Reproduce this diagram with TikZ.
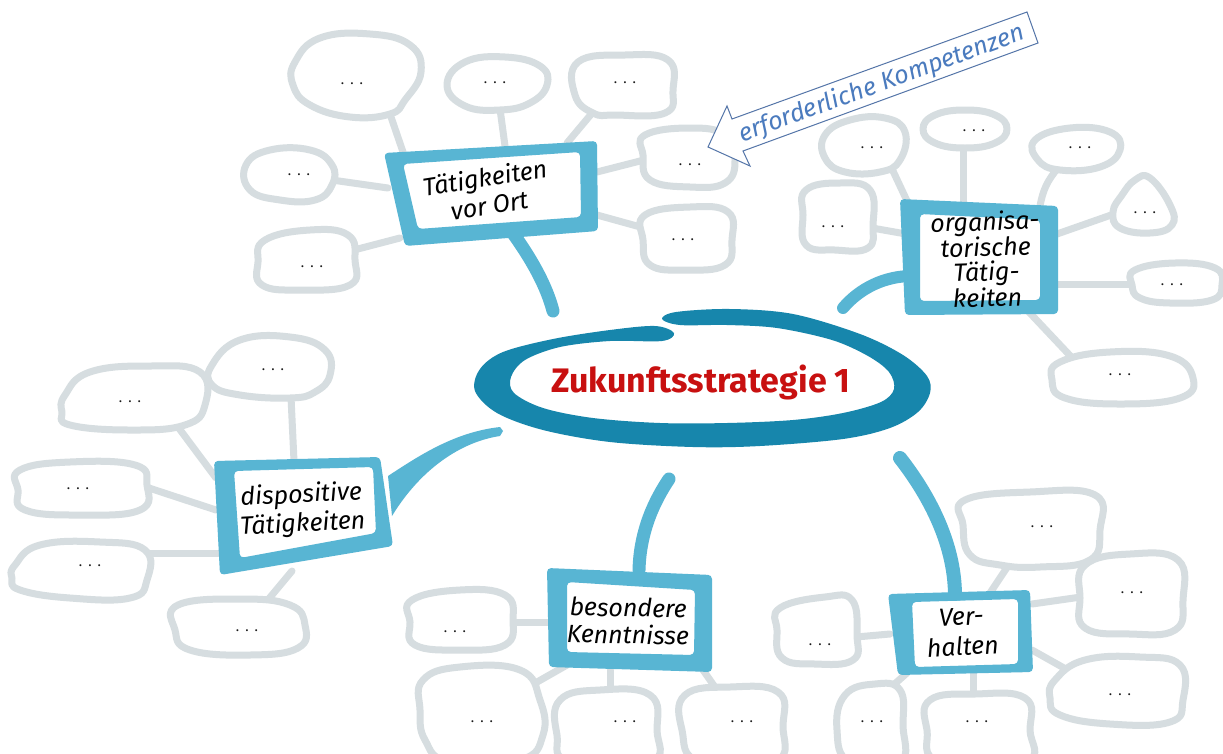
\documentclass[tikz,border=0pt]{standalone}
\usepackage{fontspec}
\setmainfont{Fira Sans}
\definecolor{twig}{HTML}{D6DDE0}
\definecolor{frame}{HTML}{58B5D3}
\definecolor{ring}{HTML}{1786AC}
\definecolor{titlered}{HTML}{C81010}
\definecolor{hintblue}{HTML}{4B7BBE}
\definecolor{hintline}{HTML}{5475A8}
\newcommand\ddd{.\kern6pt.\kern6pt.}
% hand drawn box: outer corners #1-#4, inner corners #5-#8
\newcommand\handframe[8]{%
  \fill[white] #5 -- #6 -- #7 -- #8 -- cycle;
  \fill[frame, even odd rule, rounded corners=4pt]
    #1 -- #2 -- #3 -- #4 -- cycle #5 -- #6 -- #7 -- #8 -- cycle;}
\begin{document}
\begin{tikzpicture}[x=1pt, y=-1pt,
  twigline/.style={draw=twig, line width=7pt, line cap=round},
  bubble/.style={draw=twig, line width=7pt, fill=white, line join=round},
  branch/.style={draw=frame, line width=13pt, line cap=round},
  lbl/.style={font=\fontsize{25}{28}\selectfont\itshape, align=center, inner sep=0pt},
  dotsnode/.style={font=\fontsize{14}{14}\selectfont, text=black!90, inner sep=0pt},
]
\useasboundingbox (0,0) rectangle (1223,753);
\fill[white] (0,0) rectangle (1223,753);
\clip (0,0) rectangle (1223,753);

% ---- attachment points of the grey twigs (bubble side / box side)
\coordinate (c1) at (390,114);   \coordinate (k1) at (403,152);
\coordinate (c2) at (500,109);   \coordinate (k2) at (505,146);
\coordinate (c3) at (593,112);   \coordinate (k3) at (567,143);
\coordinate (c4) at (332,180);   \coordinate (k4) at (388,188);
\coordinate (c5) at (644,160);   \coordinate (k5) at (597,172);
\coordinate (c6) at (354,250);   \coordinate (k6) at (400,238);
\coordinate (c7) at (644,228);   \coordinate (k7) at (597,215);
\coordinate (c8) at (963,147);   \coordinate (k8) at (963,203);
\coordinate (c9) at (893,171);   \coordinate (k9) at (908,203);
\coordinate (c10) at (1058,168); \coordinate (k10) at (1040,206);
\coordinate (c11) at (872,228);  \coordinate (k11) at (906,234);
\coordinate (c12) at (1114,214); \coordinate (k12) at (1057,234);
\coordinate (c13) at (1133,284); \coordinate (k13) at (1057,284);
\coordinate (c14) at (1077,363); \coordinate (k14) at (1028,311);
\coordinate (c15) at (291,397);  \coordinate (k15) at (294,461);
\coordinate (c16) at (178,427);  \coordinate (k16) at (216,478);
\coordinate (c17) at (146,487);  \coordinate (k17) at (216,510);
\coordinate (c18) at (146,553);  \coordinate (k18) at (219,553);
\coordinate (c19) at (267,601);  \coordinate (k19) at (292,571);
\coordinate (c20) at (512,622);  \coordinate (k20) at (549,622);
\coordinate (c21) at (523,690);  \coordinate (k21) at (567,665);
\coordinate (c22) at (610,693);  \coordinate (k22) at (610,670);
\coordinate (c23) at (717,690);  \coordinate (k23) at (703,670);
\coordinate (c24) at (856,637);  \coordinate (k24) at (890,634);
\coordinate (c25) at (890,688);  \coordinate (k25) at (907,673);
\coordinate (c26) at (973,697);  \coordinate (k26) at (973,672);
\coordinate (c27) at (1010,563); \coordinate (k27) at (990,593);
\coordinate (c28) at (1081,597); \coordinate (k28) at (1032,604);
\coordinate (c29) at (1064,668); \coordinate (k29) at (1032,650);

% ---- grey twigs
\foreach \i in {1,...,9,11,12,13,14,15,16,17,18,19,20,21,22,23,24,25,26,27,28,29}
  \draw[twigline] (c\i) -- (k\i);
\draw[twigline] (c10) to[bend right=15] (k10);

% ---- grey bubbles
\draw[bubble] plot[smooth cycle, tension=0.75] coordinates {(295,62) (320,38) (370,34) (410,45) (421,72) (405,100) (390,114) (350,117) (310,105) (293,85)};
\draw[bubble] plot[smooth cycle, tension=0.75] coordinates {(447,85) (465,62) (505,57) (540,66) (547,85) (530,103) (500,110) (465,106)};
\draw[bubble] plot[smooth cycle, tension=0.75] coordinates {(578,62) (625,55) (668,60) (673,90) (665,113) (615,115) (593,113) (575,95)};
\draw[bubble] plot[smooth cycle, tension=0.75] coordinates {(246,165) (270,150) (310,150) (332,165) (332,185) (315,200) (280,200) (250,190)};
\draw[bubble] plot[smooth cycle, tension=0.75] coordinates {(645,135) (690,128) (725,135) (735,160) (725,183) (690,187) (650,180) (643,155)};
\draw[bubble] plot[smooth cycle, tension=0.75] coordinates {(265,240) (310,230) (348,235) (355,260) (350,285) (300,290) (262,285) (258,262)};
\draw[bubble] plot[smooth cycle, tension=0.75] coordinates {(645,215) (690,207) (728,212) (732,240) (725,265) (685,270) (650,265) (643,240)};
\draw[bubble] plot[smooth cycle, tension=0.75] coordinates {(923,129) (935,115) (965,110) (995,115) (1007,129) (995,143) (965,148) (935,143)};
\draw[bubble] plot[smooth cycle, tension=0.75] coordinates {(825,135) (850,120) (885,118) (905,132) (900,160) (880,172) (845,172) (825,158)};
\draw[bubble] plot[smooth cycle, tension=0.75] coordinates {(1035,140) (1070,128) (1110,132) (1120,150) (1100,167) (1060,170) (1038,160)};
\draw[bubble] plot[smooth cycle, tension=0.75] coordinates {(806,190) (840,183) (870,190) (873,225) (868,248) (835,250) (806,245) (803,215)};
\draw[bubble] plot[smooth cycle, tension=0.75] coordinates {(1135,180) (1150,178) (1170,205) (1172,225) (1150,233) (1120,228) (1113,212) (1122,195)};
\draw[bubble] plot[smooth cycle, tension=0.75] coordinates {(1135,270) (1175,263) (1215,268) (1222,285) (1212,300) (1170,303) (1140,298) (1132,285)};
\draw[bubble] plot[smooth cycle, tension=0.75] coordinates {(1060,362) (1110,352) (1170,356) (1193,378) (1180,398) (1120,404) (1065,398) (1052,380)};
\draw[bubble] plot[smooth cycle, tension=0.75] coordinates {(212,365) (240,340) (290,337) (325,350) (330,375) (315,392) (290,398) (240,395) (212,385)};
\draw[bubble] plot[smooth cycle, tension=0.75] coordinates {(65,395) (90,372) (150,366) (200,372) (205,405) (185,425) (130,430) (70,425) (62,412)};
\draw[bubble] plot[smooth cycle, tension=0.75] coordinates {(20,470) (70,462) (135,465) (147,485) (140,510) (80,515) (25,510) (18,490)};
\draw[bubble] plot[smooth cycle, tension=0.75] coordinates {(15,565) (40,545) (100,542) (145,550) (147,580) (130,598) (70,598) (20,590) (12,578)};
\draw[bubble] plot[smooth cycle, tension=0.75] coordinates {(178,605) (240,599) (290,605) (305,625) (298,648) (250,655) (190,650) (175,630)};
\draw[bubble] plot[smooth cycle, tension=0.75] coordinates {(412,600) (460,590) (505,595) (513,620) (505,645) (460,650) (415,645) (410,622)};
\draw[bubble] plot[smooth cycle, tension=0.75] coordinates {(423,680) (460,667) (520,670) (540,700) (543,735) (520,760) (450,762) (425,740) (420,710)};
\draw[bubble] plot[smooth cycle, tension=0.75] coordinates {(560,700) (600,690) (650,695) (657,730) (650,762) (570,762) (557,735)};
\draw[bubble] plot[smooth cycle, tension=0.75] coordinates {(685,695) (730,687) (778,692) (783,725) (775,762) (700,762) (682,730)};
\draw[bubble] plot[smooth cycle, tension=0.75] coordinates {(780,608) (825,597) (852,600) (857,635) (853,660) (815,664) (782,658) (777,630)};
\draw[bubble] plot[smooth cycle, tension=0.75] coordinates {(845,695) (875,684) (900,690) (903,725) (900,762) (850,762) (837,730)};
\draw[bubble] plot[smooth cycle, tension=0.75] coordinates {(930,700) (975,694) (1025,698) (1030,730) (1025,762) (940,762) (927,730)};
\draw[bubble] plot[smooth cycle, tension=0.75] coordinates {(965,500) (1030,492) (1095,495) (1100,530) (1090,560) (1040,567) (1000,565) (970,555) (963,525)};
\draw[bubble] plot[smooth cycle, tension=0.75] coordinates {(1085,565) (1130,554) (1178,560) (1183,600) (1175,630) (1130,634) (1085,628) (1080,598)};
\draw[bubble] plot[smooth cycle, tension=0.75] coordinates {(1055,680) (1085,660) (1140,657) (1180,665) (1183,700) (1170,722) (1110,724) (1060,715) (1050,698)};

% ---- placeholder dots
\foreach \n/\p in {1/{(352,84)}, 2/{(495,83)}, 3/{(625,83)}, 4/{(299,175)}, 5/{(690,165)},
  6/{(312,267)}, 7/{(683,240)}, 8/{(974,131)}, 9/{(872,148)}, 10/{(1080,148)},
  11/{(833,227)}, 12/{(1145,213)}, 13/{(1172,285)}, 14/{(1120,375)}, 15/{(273,370)},
  16/{(130,402)}, 17/{(78,489)}, 18/{(90,566)}, 19/{(247,631)}, 20/{(455,632)},
  21/{(482,722)}, 22/{(625,722)}, 23/{(742,722)}, 24/{(820,645)}, 25/{(872,722)},
  26/{(977,722)}, 27/{(1042,527)}, 28/{(1132,593)}, 29/{(1120,695)}}
  \node[dotsnode] (d\n) at \p {\ddd};

% ---- teal branches from the centre
\coordinate (b1a) at (512,232); \coordinate (b1b) at (553,311);
\coordinate (b2a) at (912,276); \coordinate (b2b) at (843,308);
\coordinate (b4a) at (669,479); \coordinate (b4b) at (639,570);
\coordinate (b5a) at (900,458); \coordinate (b5b) at (955,596);
\draw[branch] (b1a) .. controls (525,250) and (545,280) .. (b1b);
\draw[branch, line width=12pt] (b2a) .. controls (885,276) and (860,288) .. (b2b);
\draw[branch] (b4a) .. controls (655,500) and (640,530) .. (b4b);
\draw[branch, line width=14pt] (b5a) .. controls (925,490) and (955,540) .. (b5b);
% tapered stroke towards the left box
\fill[frame] (388,476) .. controls (420,455) and (455,432) .. (500,427)
  -- (503,431) -- (500,436) .. controls (460,442) and (420,470) .. (392,516) -- cycle;

% ---- central brush ring
\fill[ring] plot[smooth cycle, tension=0.55] coordinates {
  (662,319) (676,312) (730,309) (793,314) (860,334) (903,355) (927,376) (930,393)
  (918,412) (890,428) (843,439) (760,446) (693,447) (610,442) (543,430) (497,413)
  (475,391) (480,369) (503,352) (553,339) (610,330) (655,326) (674,333) (662,341)
  (610,341) (560,347) (525,360) (511,377) (514,393) (543,408) (593,418) (660,423)
  (727,423) (793,420) (843,413) (881,402) (894,389) (889,372) (868,356) (832,340)
  (777,328) (727,325) (680,325)};
\node[font=\fontsize{34}{34}\selectfont\bfseries, text=titlered, anchor=base, inner sep=0pt]
  (zs) at (701,392) {Zukunftsstrategie 1};

% ---- topic boxes
\handframe{(384,153)}{(597,141)}{(598,231)}{(405,246)}{(403,164)}{(580,152)}{(581,217)}{(418,229)}
\handframe{(900,199)}{(1058,206)}{(1058,314)}{(905,315)}{(920,214)}{(1040,220)}{(1040,300)}{(920,301)}
\handframe{(214,461)}{(380,457)}{(393,546)}{(220,575)}{(234,471)}{(373,467)}{(376,533)}{(240,558)}
\handframe{(547,568)}{(712,575)}{(712,672)}{(549,667)}{(567,582)}{(695,590)}{(694,655)}{(567,652)}
\handframe{(888,594)}{(1030,590)}{(1033,672)}{(898,675)}{(912,602)}{(1018,599)}{(1018,664)}{(915,667)}

\node[lbl, rotate=9] (tvo) at (487,191) {Tätigkeiten\\vor Ort};
\node[lbl, font=\fontsize{25}{24.5}\selectfont\itshape, rotate=2] (org) at (986,259)
  {organisa-\\torische\\Tätig-\\keiten};
\node[lbl, font=\fontsize{25}{29}\selectfont\itshape, rotate=3] (disp) at (302,510)
  {dispositive\\Tätigkeiten};
\node[lbl, font=\fontsize{25}{27}\selectfont\itshape, rotate=-1] (bes) at (628,621)
  {besondere\\Kenntnisse};
\node[lbl, font=\fontsize{25}{30}\selectfont\itshape, rotate=3] (verh) at (962,632)
  {Ver-\\halten};

% ---- hint arrow
\draw[hintline, line width=1pt, fill=white, line join=miter]
  (708,147) -- (727,106) -- (732,119) -- (1027,12) -- (1038,43) -- (743,151) -- (750,166) -- cycle;
\node[font=\fontsize{25}{25}\selectfont\itshape, text=hintblue, rotate=20, inner sep=0pt]
  (komp) at (882,84) {erforderliche Kompetenzen};
\end{tikzpicture}
\end{document}
